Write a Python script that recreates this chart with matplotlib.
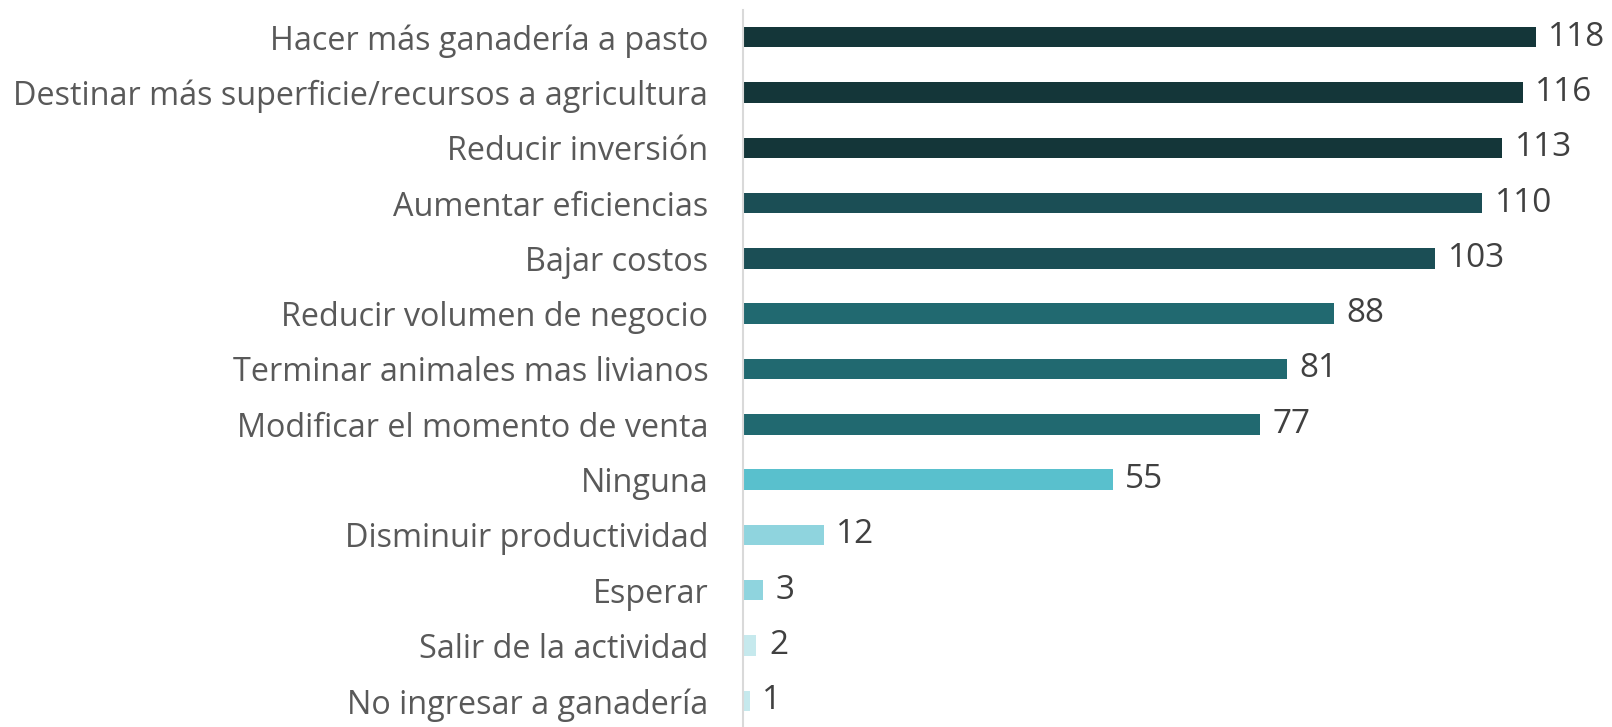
import matplotlib
matplotlib.use("Agg")
import matplotlib.pyplot as plt

categories = [
    "Hacer más ganadería a pasto",
    "Destinar más superficie/recursos a agricultura",
    "Reducir inversión",
    "Aumentar eficiencias",
    "Bajar costos",
    "Reducir volumen de negocio",
    "Terminar animales mas livianos",
    "Modificar el momento de venta",
    "Ninguna",
    "Disminuir productividad",
    "Esperar",
    "Salir de la actividad",
    "No ingresar a ganadería",
]
values = [118, 116, 113, 110, 103, 88, 81, 77, 55, 12, 3, 2, 1]
colors = ["#143639", "#143639", "#143639", "#1B4E55", "#1B4E55",
          "#216970", "#216970", "#216970", "#59C0CD",
          "#8FD4DE", "#8FD4DE", "#C6E9ED", "#C6E9ED"]

plt.rcParams['font.family'] = ['Open Sans', 'DejaVu Sans']

W, H = 1612, 727
fig = plt.figure(figsize=(W / 100, H / 100), dpi=100)
ax_left = 743 / W
px_per_unit = 6.72
xmax = 120
ax_w = xmax * px_per_unit / W
ax = fig.add_axes([ax_left, -0.002, ax_w, 1 - 9.5 / H + 0.002])

y = list(range(len(categories)))
ax.barh(y, values, height=0.37, color=colors)
ax.set_ylim(len(categories) - 0.5, -0.5)
ax.set_xlim(0, xmax)

for s in ["top", "right", "bottom"]:
    ax.spines[s].set_visible(False)
ax.spines["left"].set_color("#D9D9D9")
ax.spines["left"].set_linewidth(1.5)
ax.set_xticks([])
ax.set_yticks(y)
ax.set_yticklabels(categories, color="#595959", fontsize=23.3)
ax.tick_params(axis="y", length=0, pad=25)

for yi, v in zip(y, values):
    ax.annotate(str(v), (v, yi), xytext=(9, 0), textcoords="offset points",
                ha="left", va="center", fontsize=24, color="#404040",
                clip_on=False)

fig.savefig("out.png", dpi=100)
